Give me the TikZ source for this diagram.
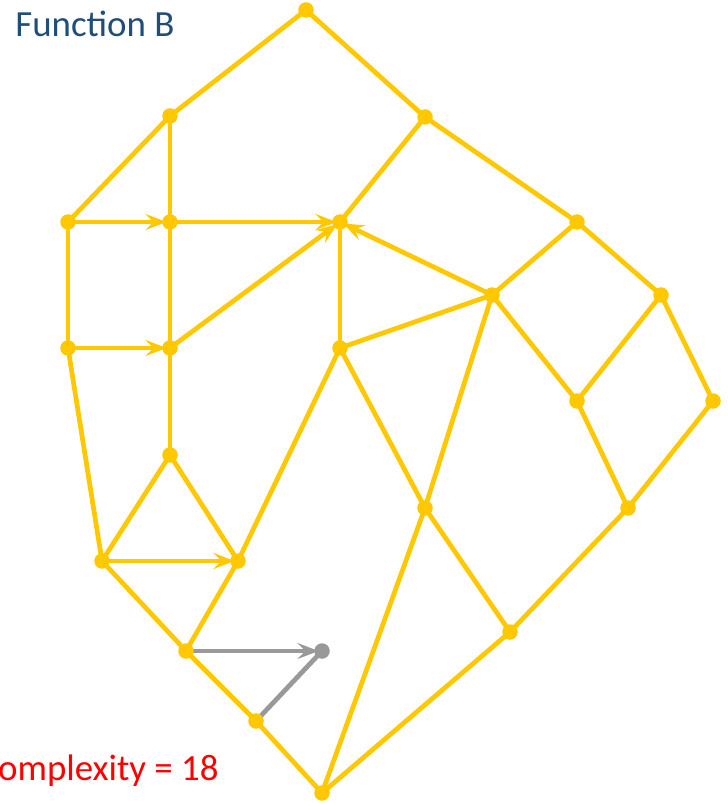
\documentclass[tikz,border=0pt]{standalone}
\usepackage{fontspec}
\setmainfont{Carlito}
\usetikzlibrary{arrows.meta}
\definecolor{flowyellow}{HTML}{FFC800}
\definecolor{deadgray}{HTML}{999999}
\definecolor{titleblue}{HTML}{1F4E79}
\definecolor{noteRed}{HTML}{FF0000}

\tikzset{
  edge/.style={flowyellow, line width=2.7pt},
  flow/.style={edge, -{Stealth[length=0.42cm,width=0.32cm,inset=0.16cm]}, shorten >=2pt},
  dead/.style={deadgray, line width=2.7pt},
  deadflow/.style={dead, -{Stealth[length=0.42cm,width=0.32cm,inset=0.16cm]}, shorten >=2pt},
}

\begin{document}
\begin{tikzpicture}[x=0.02cm, y=-0.02cm]
  \useasboundingbox (0,0) rectangle (727,803);
  % block positions
  \coordinate (a) at (306,10);
  \coordinate (b) at (170,116);
  \coordinate (c) at (425,117);
  \coordinate (d) at (68,222);
  \coordinate (e) at (170,222);
  \coordinate (f) at (340,222);
  \coordinate (g) at (577,222);
  \coordinate (h) at (492,295);
  \coordinate (i) at (661,295);
  \coordinate (j) at (68,348);
  \coordinate (k) at (170,348);
  \coordinate (l) at (340,348);
  \coordinate (m) at (577,401);
  \coordinate (n) at (713,401);
  \coordinate (o) at (170,455);
  \coordinate (p) at (425,508);
  \coordinate (q) at (628,508);
  \coordinate (r) at (102,561);
  \coordinate (s) at (238,561);
  \coordinate (t) at (186,651);
  \coordinate (u) at (322,651);
  \coordinate (v) at (510,632);
  \coordinate (w) at (256,721);
  \coordinate (x) at (322,793);
  % plain edges
  \draw[edge] (a) -- (b);
  \draw[edge] (a) -- (c);
  \draw[edge] (b) -- (d);
  \draw[edge] (b) -- (e);
  \draw[edge] (c) -- (f);
  \draw[edge] (c) -- (g);
  \draw[edge] (d) -- (j);
  \draw[edge] (e) -- (k);
  \draw[edge] (f) -- (l);
  \draw[edge] (g) -- (h);
  \draw[edge] (g) -- (i);
  \draw[edge] (h) -- (l);
  \draw[edge] (h) -- (m);
  \draw[edge] (h) -- (p);
  \draw[edge] (i) -- (m);
  \draw[edge] (i) -- (n);
  \draw[edge] (j) -- (r);
  \draw[edge] (k) -- (o);
  \draw[edge] (l) -- (s);
  \draw[edge] (l) -- (p);
  \draw[edge] (o) -- (r);
  \draw[edge] (o) -- (s);
  \draw[edge] (r) -- (t);
  \draw[edge] (s) -- (t);
  \draw[edge] (t) -- (w);
  \draw[edge] (w) -- (x);
  \draw[edge] (p) -- (x);
  \draw[edge] (p) -- (v);
  \draw[edge] (m) -- (q);
  \draw[edge] (n) -- (q);
  \draw[edge] (q) -- (v);
  \draw[edge] (v) -- (x);
  % directed edges
  \draw[flow] (d) -- (e);
  \draw[flow] (e) -- (f);
  \draw[flow] (h) -- (f);
  \draw[flow] (k) -- (f);
  \draw[flow] (j) -- (k);
  \draw[flow] (r) -- (s);
  % unreachable part
  \draw[deadflow] (t) -- (u);
  \draw[dead] (u) -- (w);
  % dots
  \foreach \v in {a,b,c,d,e,f,g,h,i,j,k,l,m,n,o,p,q,r,s,t,v,w,x}
    \fill[flowyellow] (\v) circle[radius=0.155cm];
  \fill[deadgray] (u) circle[radius=0.155cm];
  % labels
  \node[anchor=base west, inner sep=0pt, text=titleblue, font=\fontsize{21}{25}\selectfont] (title) at (15,37) {Function B};
  \node[anchor=base east, inner sep=0pt, text=noteRed, font=\fontsize{21}{25}\selectfont] (score) at (219,780) {Complexity = 18};
\end{tikzpicture}
\end{document}
